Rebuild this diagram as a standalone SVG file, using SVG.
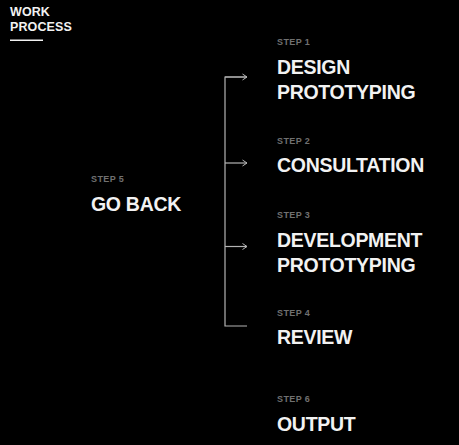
<svg xmlns="http://www.w3.org/2000/svg" width="459" height="445" viewBox="0 0 459 445">
<style>
.t{font-family:"Liberation Sans",Arial,sans-serif;font-weight:bold;fill:#f2f2f2;font-size:19.5px;letter-spacing:-0.3px}
.s{font-family:"Liberation Sans",Arial,sans-serif;font-weight:bold;fill:#707070;font-size:9px;letter-spacing:0.4px}
.h{font-family:"Liberation Sans",Arial,sans-serif;font-weight:bold;fill:#f2f2f2;font-size:12.5px;letter-spacing:0.1px}
.c{stroke:#b4b4b4;stroke-width:1.2;fill:none}
</style>
<defs>
<marker id="ar" viewBox="0 0 6 8" refX="5.5" refY="4" markerWidth="6" markerHeight="8" markerUnits="userSpaceOnUse" orient="auto">
<path d="M1,1 L5.5,4 L1,7" fill="none" stroke="#b4b4b4" stroke-width="1"/>
</marker>
</defs>
<rect width="459" height="445" fill="#000"/>
<g id="title">
<text class="h" x="10" y="16">WORK</text>
<text class="h" x="10" y="30.5">PROCESS</text>
<rect x="10" y="39.5" width="33" height="1.5" fill="#f2f2f2"/>
</g>
<g id="connectors">
<path class="c" d="M247,77 H225 V326 H247"/>
<path class="c" d="M225,77 H247" marker-end="url(#ar)"/>
<path class="c" d="M225,163 H247" marker-end="url(#ar)"/>
<path class="c" d="M225,246.5 H247" marker-end="url(#ar)"/>
</g>
<g id="step1">
<text class="s" x="277" y="45">STEP 1</text>
<text class="t" x="277" y="73.5">DESIGN</text>
<text class="t" x="277" y="98.5">PROTOTYPING</text>
</g>
<g id="step2">
<text class="s" x="277" y="143.5">STEP 2</text>
<text class="t" x="277" y="172">CONSULTATION</text>
</g>
<g id="step5">
<text class="s" x="91" y="181.5">STEP 5</text>
<text class="t" x="91" y="210.5">GO BACK</text>
</g>
<g id="step3">
<text class="s" x="277" y="217.5">STEP 3</text>
<text class="t" x="277" y="247">DEVELOPMENT</text>
<text class="t" x="277" y="272">PROTOTYPING</text>
</g>
<g id="step4">
<text class="s" x="277" y="315.5">STEP 4</text>
<text class="t" x="277" y="343.5">REVIEW</text>
</g>
<g id="step6">
<text class="s" x="277" y="401.5">STEP 6</text>
<text class="t" x="277" y="430.5">OUTPUT</text>
</g>
</svg>
